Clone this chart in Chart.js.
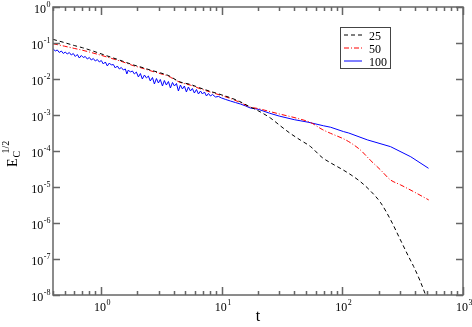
<!DOCTYPE html>
<html><head><meta charset="utf-8">
<script src="https://cdn.jsdelivr.net/npm/chart.js@4.4.1/dist/chart.umd.min.js"></script>
<style>html,body{margin:0;padding:0;background:#fff;overflow:hidden}</style>
</head><body>
<canvas id="c" width="472" height="327"></canvas>
<script>
// ---- data ----
const seriesNames = ['25', '50', '100'];

const t25 = [0.4, 0.5, 0.6, 0.7, 0.8, 1.0, 1.2, 1.5, 1.86, 2.1, 2.5, 3.1, 3.6, 4.5, 5.5, 6.5, 8, 10, 11.8, 14, 17.3, 20, 25.5, 30.6, 37, 45, 54.6, 68, 80, 102, 120, 141, 170, 208, 250, 303, 350, 390, 440, 490, 510];
const e25 = [0.126, 0.102, 8.51e-2, 7.41e-2, 6.46e-2, 5.01e-2, 4.07e-2, 3.16e-2, 2.45e-2, 2.19e-2, 1.82e-2, 1.48e-2, 1.26e-2, 8.32e-3, 7.08e-3, 5.75e-3, 4.57e-3, 3.63e-3, 3.02e-3, 2.40e-3, 1.66e-3, 1.32e-3, 8.13e-4, 5.01e-4, 3.09e-4, 2.00e-4, 1.32e-4, 6.61e-5, 4.68e-5, 2.95e-5, 2.09e-5, 1.41e-5, 7.94e-6, 3.63e-6, 1.26e-6, 3.39e-7, 1.26e-7, 6.17e-8, 2.51e-8, 1.0e-8, 7.1e-9];

const t50 = [0.4, 0.5, 0.6, 0.7, 0.8, 1.0, 1.2, 1.5, 1.86, 2.1, 2.5, 3.1, 3.6, 4.5, 5.5, 6.5, 8, 10, 11.8, 14, 17.3, 20, 25.5, 30, 42, 54.6, 68, 80, 102, 113, 141, 170, 208, 250, 303, 390, 520];
const e50 = [9.55e-2, 8.13e-2, 7.08e-2, 6.31e-2, 5.62e-2, 4.57e-2, 3.80e-2, 3.02e-2, 2.34e-2, 2.09e-2, 1.74e-2, 1.41e-2, 1.20e-2, 8.13e-3, 6.76e-3, 5.50e-3, 4.37e-3, 3.47e-3, 2.88e-3, 2.29e-3, 1.66e-3, 1.51e-3, 1.23e-3, 1.07e-3, 8.13e-4, 6.17e-4, 3.98e-4, 3.09e-4, 2.19e-4, 1.82e-4, 1.07e-4, 5.62e-5, 2.95e-5, 1.585e-5, 1.15e-5, 7.41e-6, 4.37e-6];

const t100 = [0.402, 0.418, 0.434, 0.451, 0.469, 0.487, 0.506, 0.525, 0.546, 0.567, 0.589, 0.612, 0.636, 0.661, 0.687, 0.713, 0.741, 0.770, 0.800, 0.831, 0.863, 0.897, 0.932, 0.968, 1.005, 1.045, 1.086, 1.128, 1.172, 1.217, 1.265, 1.314, 1.365, 1.418, 1.473, 1.531, 1.591, 1.637, 1.685, 1.750, 1.820, 1.890, 1.963, 2.04, 2.12, 2.20, 2.29, 2.38, 2.47, 2.56, 2.67, 2.77, 2.88, 2.99, 3.10, 3.23, 3.35, 3.48, 3.62, 3.76, 3.91, 4.06, 4.22, 4.38, 4.55, 4.73, 4.91, 5.10, 5.30, 5.51, 5.72, 5.94, 6.18, 6.42, 6.67, 6.93, 7.20, 7.48, 7.77, 8.07, 8.39, 8.89, 9.41, 9.96, 10.8, 11.8, 13.0, 14.3, 15.8, 17.3, 20, 25, 30, 40, 52, 70, 80, 102, 113, 161, 251, 369, 518];
const e100 = [6.81e-2, 6.00e-2, 6.40e-2, 5.45e-2, 6.00e-2, 5.11e-2, 5.62e-2, 4.94e-2, 5.45e-2, 4.64e-2, 5.11e-2, 4.22e-2, 4.80e-2, 3.83e-2, 4.50e-2, 3.96e-2, 4.22e-2, 3.59e-2, 3.96e-2, 3.37e-2, 3.71e-2, 3.16e-2, 3.48e-2, 2.97e-2, 3.27e-2, 2.61e-2, 2.97e-2, 2.30e-2, 2.78e-2, 2.45e-2, 2.53e-2, 2.02e-2, 2.30e-2, 1.90e-2, 2.09e-2, 1.78e-2, 1.90e-2, 1.38e-2, 1.78e-2, 1.56e-2, 1.67e-2, 1.38e-2, 1.56e-2, 1.14e-2, 1.42e-2, 1.0e-2, 1.29e-2, 1.07e-2, 1.21e-2, 8.80e-3, 1.10e-2, 7.26e-3, 1.03e-2, 7.74e-3, 9.69e-3, 6.39e-3, 9.08e-3, 6.81e-3, 8.53e-3, 5.62e-3, 8.00e-3, 6.39e-3, 7.50e-3, 4.64e-3, 6.81e-3, 5.27e-3, 6.39e-3, 4.36e-3, 6.00e-3, 4.64e-3, 5.45e-3, 4.08e-3, 5.11e-3, 3.83e-3, 4.64e-3, 3.83e-3, 4.36e-3, 3.37e-3, 3.96e-3, 3.37e-3, 3.71e-3, 3.16e-3, 3.27e-3, 2.97e-3, 2.70e-3, 2.45e-3, 2.22e-3, 2.02e-3, 1.78e-3, 1.56e-3, 1.45e-3, 1.12e-3, 9.33e-4, 7.41e-4, 6.31e-4, 5.01e-4, 4.57e-4, 3.47e-4, 3.16e-4, 2.04e-4, 1.32e-4, 6.92e-5, 3.31e-5];

const xTickExponents = ['0', '1', '2', '3'];
const yTickExponents = ['0', '-1', '-2', '-3', '-4', '-5', '-6', '-7', '-8'];
const xTitle = 't';
const yTitleMain = 'E', yTitleSub = 'C', yTitleSup = '1/2';

// ---- chart ----
const pts = (ts, vs) => ts.map((t, i) => ({ x: t, y: vs[i] }));
const SERIF = '"Liberation Serif", "Times New Roman", serif';

function groupStart(ctx, x, exp, align, big, small) {
  ctx.font = big + 'px ' + SERIF;
  const w1 = ctx.measureText('10').width;
  ctx.font = small + 'px ' + SERIF;
  const w2 = ctx.measureText(exp).width;
  const x0 = align === 'right' ? x - w1 - w2 : x - (w1 + w2) / 2;
  return { x0, w1, w2 };
}

const axesPlugin = {
  id: 'axesPlugin',
  afterDraw(chart) {
    const ctx = chart.ctx, xs = chart.scales.x, ys = chart.scales.y, a = chart.chartArea;
    ctx.save();
    ctx.strokeStyle = '#666';
    ctx.lineWidth = 1.5;
    ctx.setLineDash([]);
    for (let k = -1; k <= 3; k++) {
      for (let m = 1; m <= 9; m++) {
        const v = m * Number('1e' + k);
        if (v < xs.min - 1e-9 || v > xs.max + 1e-9) continue;
        const px = Math.round(xs.getPixelForValue(v)) + 0.5;
        const len = m === 1 ? 8 : 4;
        ctx.beginPath();
        ctx.moveTo(px, a.bottom); ctx.lineTo(px, a.bottom - len);
        ctx.moveTo(px, a.top); ctx.lineTo(px, a.top + len);
        ctx.stroke();
      }
    }
    yTickExponents.forEach(e => {
      const py = Math.round(ys.getPixelForValue(Number('1e' + e))) + 0.5;
      ctx.beginPath();
      ctx.moveTo(a.left, py); ctx.lineTo(a.left + 7, py);
      ctx.moveTo(a.right, py); ctx.lineTo(a.right - 7, py);
      ctx.stroke();
    });
    ctx.strokeRect(a.left, a.top, a.right - a.left, a.bottom - a.top);

    ctx.fillStyle = '#000';
    ctx.textBaseline = 'alphabetic';
    ctx.textAlign = 'left';
    yTickExponents.forEach(e => {
      const py = ys.getPixelForValue(Number('1e' + e));
      const g = groupStart(ctx, 50, e, 'right', 12, 8);
      ctx.font = '12px ' + SERIF;
      ctx.fillText('10', g.x0, py + 5.5);
      ctx.font = '8px ' + SERIF;
      ctx.fillText(e, g.x0 + g.w1 + 0.5, py);
    });
    xTickExponents.forEach(e => {
      const px = xs.getPixelForValue(Number('1e' + e));
      const g = groupStart(ctx, px + 1, e, 'center', 12, 8);
      ctx.font = '12px ' + SERIF;
      ctx.fillText('10', g.x0, 311);
      ctx.font = '8px ' + SERIF;
      ctx.fillText(e, g.x0 + g.w1 + 0.5, 305);
    });

    ctx.font = '16px ' + SERIF;
    ctx.textAlign = 'center';
    ctx.fillText(xTitle, (a.left + a.right) / 2, 321);

    ctx.save();
    ctx.translate(17, 167);
    ctx.rotate(-Math.PI / 2);
    ctx.textAlign = 'left';
    ctx.font = '14px ' + SERIF;
    ctx.fillText(yTitleMain, 0, 0);
    const wE = ctx.measureText(yTitleMain).width;
    ctx.font = '10px ' + SERIF;
    ctx.fillText(yTitleSub, wE + 1, 2.5);
    ctx.font = '10px ' + SERIF;
    ctx.fillText(yTitleSup, wE + 5, -8.5);
    ctx.restore();

    const lx = 340.5, ly = 27.5, lw = 50, lh = 41;
    ctx.strokeStyle = '#444';
    ctx.lineWidth = 1;
    ctx.setLineDash([]);
    ctx.strokeRect(lx, ly, lw, lh);
    const rowsY = [35, 48, 61];
    chart.data.datasets.forEach((ds, i) => {
      ctx.strokeStyle = ds.borderColor;
      ctx.lineWidth = 1;
      ctx.setLineDash(ds.borderDash || []);
      ctx.beginPath();
      ctx.moveTo(344, rowsY[i]); ctx.lineTo(362, rowsY[i]);
      ctx.stroke();
      ctx.setLineDash([]);
      ctx.fillStyle = '#000';
      ctx.font = '12px ' + SERIF;
      ctx.textAlign = 'left';
      ctx.fillText(ds.label, 369, rowsY[i] + 4.5);
    });
    ctx.restore();
  }
};

new Chart(document.getElementById('c'), {
  type: 'line',
  data: {
    datasets: [
      { label: seriesNames[0], data: pts(t25, e25), borderColor: '#000000', borderWidth: 1, borderDash: [4, 3], pointRadius: 0, cubicInterpolationMode: 'monotone', fill: false },
      { label: seriesNames[1], data: pts(t50, e50), borderColor: '#ff0000', borderWidth: 1, borderDash: [5, 2, 1, 2], pointRadius: 0, cubicInterpolationMode: 'monotone', fill: false },
      { label: seriesNames[2], data: pts(t100, e100), borderColor: '#0000ff', borderWidth: 1, pointRadius: 0, tension: 0, fill: false }
    ]
  },
  options: {
    responsive: false,
    animation: false,
    devicePixelRatio: 1,
    layout: { padding: { left: 53, right: 9, top: 7, bottom: 32 } },
    plugins: { legend: { display: false }, tooltip: { enabled: false } },
    scales: {
      x: { type: 'logarithmic', min: 0.4, max: 1000, display: false },
      y: { type: 'logarithmic', min: 1e-8, max: 1, display: false }
    }
  },
  plugins: [axesPlugin]
});
</script>
</body></html>
